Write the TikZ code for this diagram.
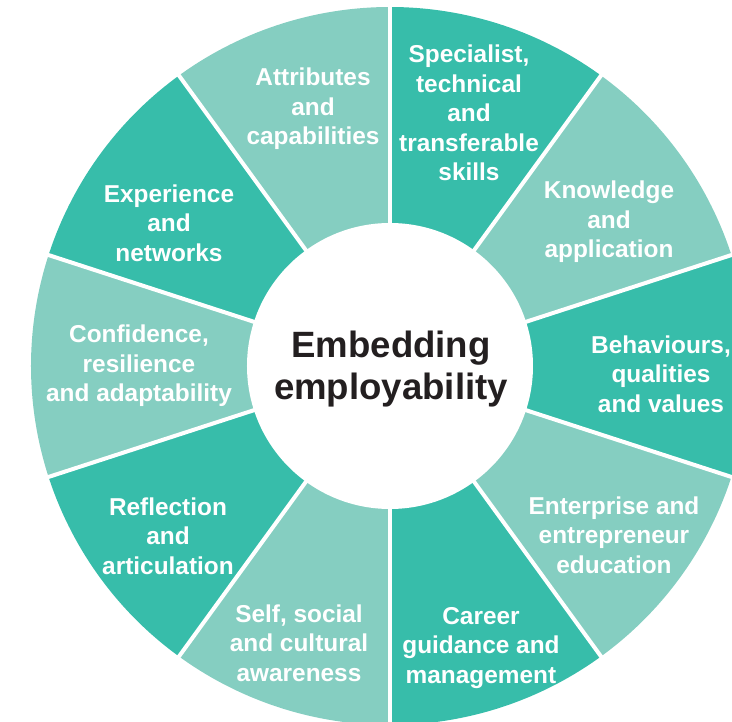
\documentclass[tikz,border=0pt]{standalone}
\usepackage{fontspec}
\setmainfont{Liberation Sans}
\definecolor{tealdark}{RGB}{55,189,170}
\definecolor{teallight}{RGB}{133,206,193}
\definecolor{textdark}{RGB}{35,31,32}
\begin{document}
\begin{tikzpicture}[x=1pt,y=1pt,
  seglabel/.style={text=white,font=\bfseries\fontsize{24.4}{29.5}\selectfont,align=center,inner sep=0pt},
  sep/.style={white,line width=4pt}]
\useasboundingbox (-390,-356) rectangle (342,366);
\clip (-390,-356) rectangle (342,366);
\def\R{359}
% sectors
\foreach \a/\c in {90/tealdark,54/teallight,18/tealdark,-18/teallight,-54/tealdark,-90/teallight,-126/tealdark,-162/teallight,-198/tealdark,-234/teallight}{
  \fill[\c] (0,0) -- (\a:\R) arc[start angle=\a,end angle=\a-36,radius=\R] -- cycle;
}
\foreach \a in {90,54,18,-18,-54,-90,-126,-162,-198,-234}{
  \draw[sep] (0,0) -- (\a:\R+5);
}
\node[circle,fill=white,minimum size=286pt,inner sep=0pt] (hub) at (0,0) {};
\node[text=textdark,font=\bfseries\fontsize{36.6}{42}\selectfont,align=center] (title) at (1,-3) {Embedding\\employability};
\node[seglabel] (spec) at (79,253) {Specialist,\\technical\\and\\transferable\\skills};
\node[seglabel] (know) at (219,144) {Knowledge\\and\\application};
\node[seglabel] (behav) at (271,-8) {Behaviours,\\qualities\\and values};
\node[seglabel] (enter) at (224,-169) {Enterprise and\\entrepreneur\\education};
\node[seglabel] (career) at (91,-282) {Career\\guidance and\\management};
\node[seglabel] (self) at (-91,-277) {Self, social\\and cultural\\awareness};
\node[seglabel] (refl) at (-222,-170) {Reflection\\and\\articulation};
\node[seglabel] (conf) at (-251,0) {Confidence,\\resilience\\and adaptability};
\node[seglabel] (exp) at (-221,143) {Experience\\and\\networks};
\node[seglabel] (attr) at (-77,257) {Attributes\\and\\capabilities};
\end{tikzpicture}
\end{document}
